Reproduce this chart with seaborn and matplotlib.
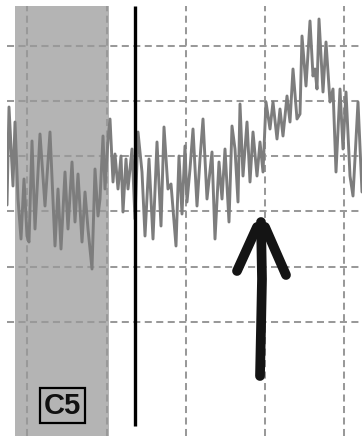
import matplotlib
matplotlib.use("Agg")
import matplotlib.pyplot as plt
import seaborn as sns

# signal vertices (x: time, y: amplitude, screen units, y grows downward)
t = [7, 9, 13, 15, 18, 21, 24, 27, 29, 32, 35, 40, 45, 50, 55, 58, 61, 65, 68, 72,
     75, 78, 82, 85, 88, 92, 95, 98, 100, 103, 105, 108, 110, 113, 115, 118, 121,
     123, 126, 128, 132, 135, 138, 142, 145, 149, 153, 157, 161, 164, 168, 171, 176,
     179, 182, 185, 187, 190, 193, 197, 200, 203, 207, 212, 215, 219, 222, 225, 229,
     232, 235, 238, 240, 243, 247, 250, 253, 257, 260, 263, 266, 270, 273, 277, 280,
     283, 287, 290, 293, 297, 300, 302, 306, 310, 313, 315, 317, 319, 323, 326, 330,
     333, 336, 340, 343, 346, 350, 353, 358, 362]
amp = [206, 108, 187, 123, 200, 240, 180, 237, 243, 142, 230, 135, 207, 133, 247, 190,
       250, 173, 230, 163, 223, 175, 243, 193, 230, 270, 170, 217, 200, 137, 190, 140,
       120, 183, 155, 190, 157, 213, 160, 190, 150, 220, 133, 173, 237, 160, 240, 143,
       227, 128, 190, 185, 247, 157, 215, 147, 203, 170, 130, 207, 160, 120, 200, 153,
       240, 163, 200, 150, 223, 127, 150, 203, 105, 177, 123, 183, 133, 177, 143, 173,
       103, 130, 103, 140, 110, 137, 97, 123, 70, 120, 115, 37, 87, 22, 77, 70, 90, 20,
       93, 43, 103, 90, 173, 90, 150, 93, 177, 197, 103, 193]

grid_x = [27, 107, 186, 265, 344]
grid_y = [47, 102, 157, 212, 268, 323]

shade = (15, 109)        # gray window
marker_t = 135           # vertical event line
marker_span = (7, 427)
label = "C5"
label_pos = (62.5, 406)

# hand-drawn arrow strokes
arrow_shaft = ([261, 262, 261, 260], [223, 280, 330, 377])
arrow_left = ([257, 237], [228, 272])
arrow_right = ([265, 286], [228, 276])

sns.set_style("whitegrid")
fig = plt.figure(figsize=(3.62, 4.39), dpi=100)
ax = fig.add_axes([7 / 362, 2 / 439, 355 / 362, 430 / 439])

ax.axvspan(*shade, color="#b4b4b4", lw=0, zorder=0.2)
sns.lineplot(x=t, y=amp, ax=ax, color="#7d7d7d", lw=2.1, estimator=None, zorder=2)
ax.vlines(marker_t, *marker_span, color="black", lw=2.4, zorder=3)

for xs, ys in (arrow_shaft, arrow_left, arrow_right):
    ax.plot(xs, ys, color="#141414", lw=7, solid_capstyle="round",
            solid_joinstyle="round", zorder=4)

ax.text(*label_pos, label, ha="center", va="center", fontsize=21,
        family="Liberation Sans", fontweight="bold", color="#111111", zorder=5,
        bbox=dict(boxstyle="square,pad=0.12", fc="none", ec="black", lw=1.6))

ax.set_xlim(7, 362)
ax.set_ylim(437, 7)
ax.set_xticks(grid_x)
ax.set_yticks(grid_y)
ax.set_xticklabels([])
ax.set_yticklabels([])
ax.tick_params(length=0)
ax.set_axisbelow(True)
ax.grid(True, color="#999999", lw=1.45, linestyle=(0, (3.5, 2.2)))
for s in ax.spines.values():
    s.set_visible(False)
ax.set_facecolor("white")

fig.savefig("out.png", dpi=100)
